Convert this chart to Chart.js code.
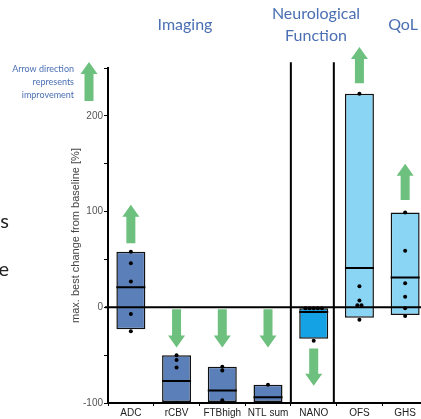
<!DOCTYPE html>
<html>
<head>
<meta charset="utf-8">
<script src="https://cdn.jsdelivr.net/npm/chart.js@4.4.0/dist/chart.umd.min.js"></script>
<style>
  html, body { margin: 0; padding: 0; background: #fff; overflow: hidden; }
</style>
</head>
<body>
<canvas id="chart" width="430" height="419"></canvas>
<script>
// data
const categories = ['ADC', 'rCBV', 'FTBhigh', 'NTL sum', 'NANO', 'OFS', 'GHS']
const boxLow = [-23, -99, -99, -99, -33, -11, -8]
const boxHigh = [58, -50, -62, -81, -1, 223, 99]
const medians = [21, -77, -87, -94, -5, 41, 31]
const pointsADC = [58, 46, 27, -7, -25]
const pointsRCBV = [-50, -55, -63, -100]
const pointsFTB = [-62, -66, -97, -100]
const pointsNTL = [-81, -100]
const pointsNANO = [-1, -1, -1, -1, -1, -35]
const pointsOFS = [223, 22, 7, 2, 2, -13]
const pointsGHS = [99, 59, 25, 11, -1, -9]
const allPoints = [pointsADC, pointsRCBV, pointsFTB, pointsNTL, pointsNANO, pointsOFS, pointsGHS]
const boxColors = ['#5b7fb8', '#5b7fb8', '#5b7fb8', '#5b7fb8', '#14a2e4', '#8ad4f4', '#8ad4f4']
// improvement arrows: tail -> tip in y units
const arrowFrom = [67, -2, -2, -2, -43, 234, 112]
const arrowTo = [107, -42, -42, -42, -82, 272, 150]
const groupSeparators = [3.5, 4.44]
const yTickMin = -100
const yTickMax = 250
const yTickStep = 50

const blueText = '#4a6fb3'
const green = '#6dc07d'

// spread equal values side by side
function jitterPoints(){
  let out = []
  allPoints.forEach((vals, i) => {
    let counts = {}
    vals.forEach(v => counts[v] = (counts[v] || 0) + 1)
    let seen = {}
    vals.forEach(v => {
      let n = counts[v]
      let k = seen[v] || 0
      seen[v] = k + 1
      let off = n > 1 ? (k - (n - 1) / 2) * 0.09 : 0
      out.push({x: i + off, y: v})
    })
  })
  return out
}

function drawArrow(ctx, x, y0, y1){
  const dir = Math.sign(y1 - y0)
  const head = 12, hw = 8.5, sw = 4.5
  const yb = y1 - dir * head
  ctx.beginPath()
  ctx.moveTo(x - sw, y0)
  ctx.lineTo(x - sw, yb)
  ctx.lineTo(x - hw, yb)
  ctx.lineTo(x, y1)
  ctx.lineTo(x + hw, yb)
  ctx.lineTo(x + sw, yb)
  ctx.lineTo(x + sw, y0)
  ctx.closePath()
  ctx.fill()
}

function noSidePadding(scale){
  scale.paddingLeft = 0
  scale.paddingRight = 0
}

const decorations = {
  id: 'decorations',
  afterDraw: (chart) => {
    const {ctx, scales: {x, y}, chartArea} = chart
    ctx.save()
    // zero line
    ctx.strokeStyle = '#000'
    ctx.lineWidth = 2
    ctx.beginPath()
    ctx.moveTo(chartArea.left - 3, y.getPixelForValue(0))
    ctx.lineTo(chart.width, y.getPixelForValue(0))
    ctx.stroke()
    // group separators
    const xj = chart.scales.xj
    groupSeparators.forEach(s => {
      let px = xj.getPixelForValue(s)
      ctx.beginPath()
      ctx.moveTo(px, y.getPixelForValue(256))
      ctx.lineTo(px, chartArea.bottom)
      ctx.stroke()
    })
    // arrows
    ctx.fillStyle = green
    categories.forEach((c, i) => {
      drawArrow(ctx, x.getPixelForValue(i), y.getPixelForValue(arrowFrom[i]), y.getPixelForValue(arrowTo[i]))
    })
    drawArrow(ctx, 89, 101, 62)
    // texts
    ctx.fillStyle = blueText
    ctx.textAlign = 'center'
    ctx.textBaseline = 'middle'
    ctx.font = '16px Lato'
    ctx.fillText('Imaging', 185, 25)
    ctx.fillText('Neurological', 316, 14)
    ctx.fillText('Function', 316, 36)
    ctx.fillText('QoL', 403, 25)
    ctx.font = '9px Lato'
    ctx.textAlign = 'right'
    ctx.fillText('Arrow direction', 74, 69)
    ctx.fillText('represents', 74, 82)
    ctx.fillText('improvement', 74, 95)
    ctx.fillStyle = '#222'
    ctx.font = '20px Lato'
    ctx.textBaseline = 'alphabetic'
    ctx.fillText('s', 9, 228)
    ctx.fillText('e', 9, 276)
    ctx.restore()
  }
}

const ctx = document.getElementById('chart').getContext('2d')
new Chart(ctx, {
  type: 'bar',
  data: {
    labels: categories,
    datasets: [
      {
        type: 'scatter',
        xAxisID: 'xj',
        data: jitterPoints(),
        pointRadius: 2,
        pointBackgroundColor: '#000',
        pointBorderWidth: 0,
        order: 0
      },
      {
        type: 'line',
        data: medians,
        showLine: false,
        pointStyle: 'line',
        pointRadius: 14.5,
        pointBorderWidth: 2,
        pointBorderColor: '#000',
        order: 1
      },
      {
        data: boxLow.map((lo, i) => [lo, boxHigh[i]]),
        backgroundColor: boxColors,
        borderColor: '#111',
        borderWidth: 1.5,
        borderSkipped: false,
        grouped: false,
        barPercentage: 0.634,
        categoryPercentage: 1,
        order: 2
      }
    ]
  },
  options: {
    responsive: false,
    animation: false,
    devicePixelRatio: 1,
    layout: {
      autoPadding: false,
      padding: {top: 68, left: 67, right: 2, bottom: 0}
    },
    plugins: {
      legend: {display: false},
      tooltip: {enabled: false}
    },
    scales: {
      x: {
        offset: true,
        grid: {display: true, drawOnChartArea: false, drawTicks: true, tickLength: 3, color: '#000'},
        border: {display: true, color: '#000', width: 2},
        ticks: {
          color: '#222',
          padding: 1,
          maxRotation: 0,
          autoSkip: false,
          font: {family: 'Liberation Sans', size: 10}
        },
        afterFit: (scale) => {
          scale.height = 16
          noSidePadding(scale)
        }
      },
      xj: {
        type: 'linear',
        display: false,
        offset: false,
        min: -0.5,
        max: categories.length - 0.5,
        afterFit: noSidePadding
      },
      y: {
        min: yTickMin,
        max: yTickMax,
        grid: {display: true, drawOnChartArea: false, drawTicks: true, tickLength: 4, color: '#000'},
        border: {display: true, color: '#000', width: 2},
        ticks: {
          stepSize: yTickStep,
          color: '#555',
          padding: 1,
          font: {family: 'Liberation Sans', size: 10},
          callback: (v) => v % 100 === 0 ? v : ''
        },
        title: {
          display: true,
          text: 'max. best change from baseline [%]',
          color: '#444',
          padding: {top: 2, bottom: 0},
          font: {family: 'Liberation Sans', size: 11}
        },
        afterFit: (scale) => { scale.width = 41 }
      }
    }
  },
  plugins: [decorations]
})
</script>
</body>
</html>
